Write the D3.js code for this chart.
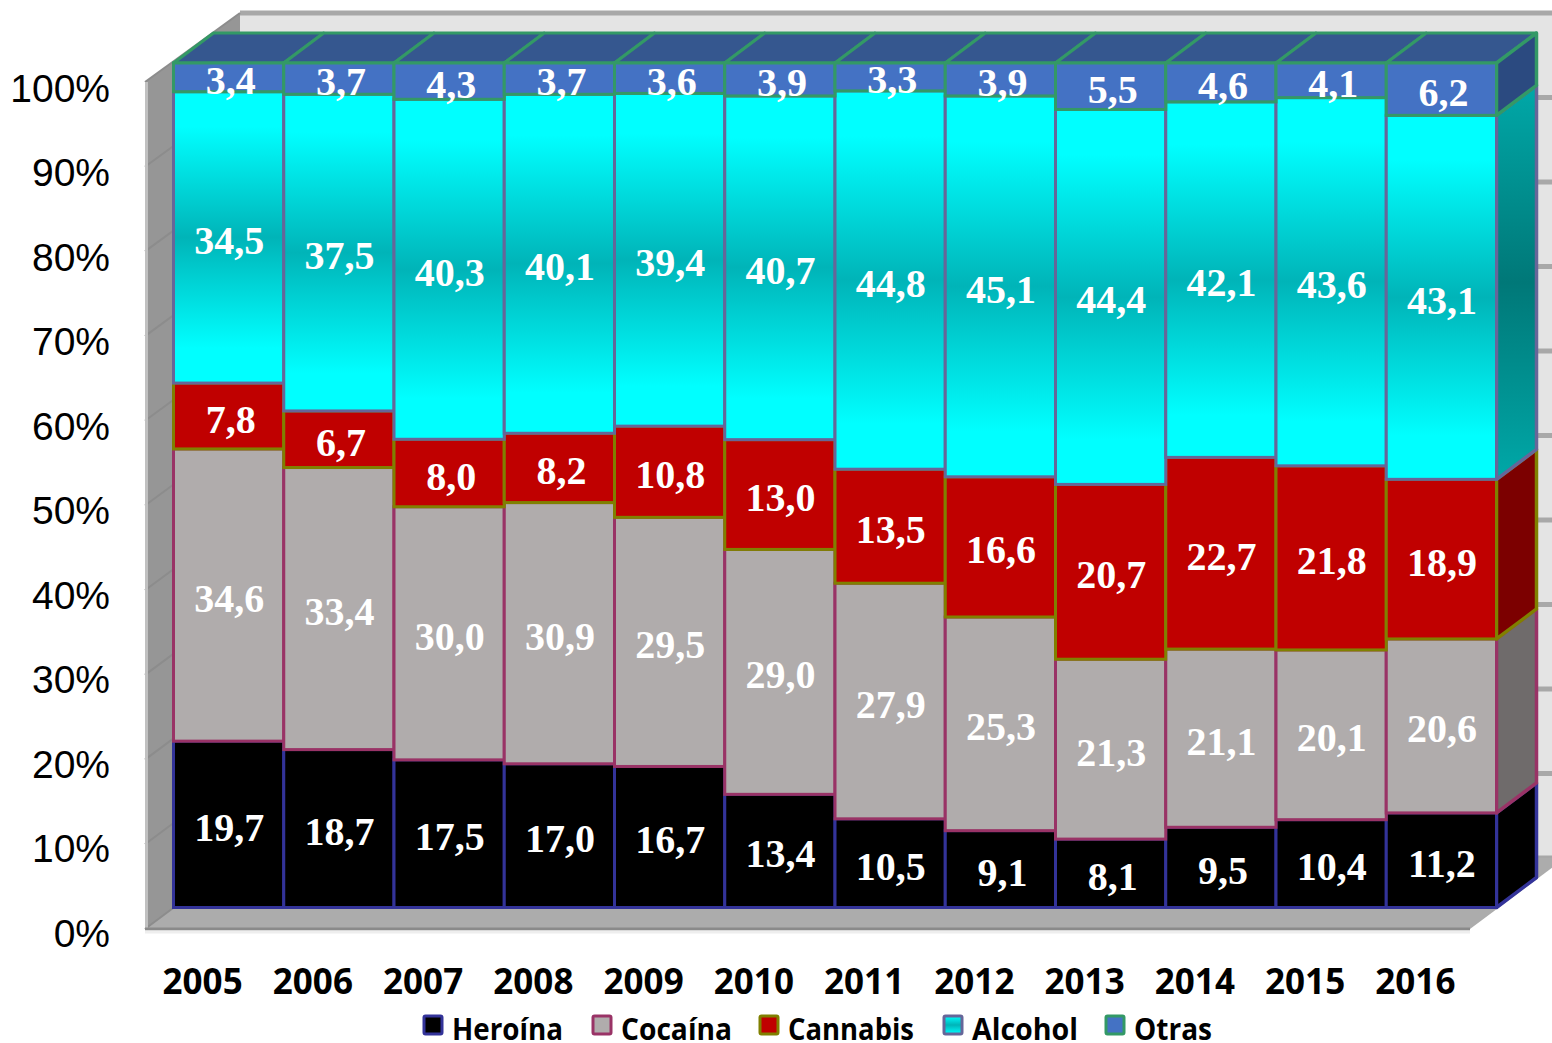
<!DOCTYPE html>
<html><head><meta charset="utf-8">
<script src="https://cdn.jsdelivr.net/npm/d3@7/dist/d3.min.js"></script>
<style>html,body{margin:0;padding:0;background:#fff;overflow:hidden}svg{display:block}</style>
</head><body><svg id="c" width="1552" height="1043"></svg>
<script>
const years=["2005","2006","2007","2008","2009","2010","2011","2012","2013","2014","2015","2016"];
const seriesNames=["Heroína","Cocaína","Cannabis","Alcohol","Otras"];
const heroina=[19.7,18.7,17.5,17.0,16.7,13.4,10.5,9.1,8.1,9.5,10.4,11.2];
const cocaina=[34.6,33.4,30.0,30.9,29.5,29.0,27.9,25.3,21.3,21.1,20.1,20.6];
const cannabis=[7.8,6.7,8.0,8.2,10.8,13.0,13.5,16.6,20.7,22.7,21.8,18.9];
const alcohol=[34.5,37.5,40.3,40.1,39.4,40.7,44.8,45.1,44.4,42.1,43.6,43.1];
const otras=[3.4,3.7,4.3,3.7,3.6,3.9,3.3,3.9,5.5,4.6,4.1,6.2];
const seriesValues=[heroina,cocaina,cannabis,alcohol,otras];
const fills=["#000000","#b0acac","#c00000","url(#alc)","#4472c4"];
const sideFills=["#000000","#6f6b6b","#7c0000","url(#alcSide)","#2b4a80"];
const strokes=["#333399","#993366","#808000","#666699","#339966"];
const yTicks=d3.range(0,101,10);

const svg=d3.select("#c");
const defs=svg.append("defs");
function grad(id,stops){const g=defs.append("linearGradient").attr("id",id).attr("x1",0).attr("y1",0).attr("x2",0).attr("y2",1);
  stops.forEach(s=>g.append("stop").attr("offset",s[0]).attr("stop-color",s[1]));}
grad("alc",[[0,"#00ffff"],[0.12,"#00ffff"],[0.5,"#00b4b8"],[0.88,"#00ffff"],[1,"#00ffff"]]);
grad("alcSide",[[0,"#00a8a8"],[0.5,"#007878"],[1,"#00a8a8"]]);
grad("legAlc",[[0,"#00ffff"],[0.5,"#00b4b8"],[1,"#00ffff"]]);

const x=d3.scaleBand().domain(years).range([173.5,1496.5]).padding(0);
const y=d3.scaleLinear().domain([0,1]).range([907.5,63]);
const dx=40,dy=-30;
const wallY=d3.scaleLinear().domain([0,100]).range([929,82]);
const backY=d3.scaleLinear().domain([0,100]).range([858,13]);
const wallX0=145,backX=240;

// back wall
svg.append("rect").attr("x",backX).attr("y",backY(100)).attr("width",1552-backX).attr("height",backY(0)-backY(100)).attr("fill","#e4e4e4");
// back-wall gridlines
svg.append("g").attr("stroke","#a8a8a8").attr("stroke-width",5).selectAll("line").data(yTicks).join("line")
  .attr("x1",backX).attr("x2",1552).attr("y1",d=>backY(d)).attr("y2",d=>backY(d));
// floor
svg.append("path").attr("d",`M${wallX0},${wallY(0)}L${backX},${backY(0)}L1565,${backY(0)}L1470,${wallY(0)}Z`).attr("fill","#acacac");
// left wall
svg.append("path").attr("d",`M${wallX0},${wallY(0)}L${backX},${backY(0)}L${backX},${backY(100)}L${wallX0},${wallY(100)}Z`).attr("fill","#969696");
// wall gridlines
svg.append("g").attr("stroke","#8c8c8c").attr("stroke-width",2).selectAll("line").data(yTicks).join("line")
  .attr("x1",wallX0).attr("x2",backX).attr("y1",d=>wallY(d)).attr("y2",d=>backY(d));
// wall front edge, floor front edge
svg.append("line").attr("x1",wallX0+1.5).attr("x2",wallX0+1.5).attr("y1",wallY(100)).attr("y2",wallY(0)).attr("stroke","#c0c0c0").attr("stroke-width",3);
svg.append("line").attr("x1",wallX0).attr("x2",1470).attr("y1",wallY(0)).attr("y2",wallY(0)).attr("stroke","#8a8a8a").attr("stroke-width",3);
svg.append("line").attr("x1",wallX0).attr("x2",1470).attr("y1",wallY(0)+3).attr("y2",wallY(0)+3).attr("stroke","#eeeeee").attr("stroke-width",3);

// stacked data: 100% stack
const table=years.map((yr,i)=>{const o={year:yr};seriesNames.forEach((s,j)=>o[s]=seriesValues[j][i]);return o;});
const stacked=d3.stack().keys(seriesNames).offset(d3.stackOffsetExpand)(table);

const bars=svg.append("g");
// top faces
const topLayer=stacked[stacked.length-1];
const topG=bars.append("g");
topLayer.forEach(d=>{
  const a=x(d.data.year),b=a+x.bandwidth(),t=y(d[1]);
  topG.append("path").attr("d",`M${a},${t}L${a+dx},${t+dy}L${b+dx},${t+dy}L${b},${t}Z`)
    .attr("fill","#35578f").attr("stroke","#339966").attr("stroke-width",3).attr("stroke-linejoin","round");
});
stacked.forEach((layer,j)=>{
  const g=bars.append("g");
  // right side of the last bar
  const last=layer[layer.length-1];
  const rx=x(last.data.year)+x.bandwidth();
  g.append("path").attr("d",`M${rx},${y(last[0])}L${rx+dx},${y(last[0])+dy}L${rx+dx},${y(last[1])+dy}L${rx},${y(last[1])}Z`)
    .attr("fill",sideFills[j]).attr("stroke",strokes[j]).attr("stroke-width",3.5).attr("stroke-linejoin","round");
  g.selectAll("rect").data(layer).join("rect")
    .attr("x",d=>x(d.data.year)).attr("width",x.bandwidth())
    .attr("y",d=>y(d[1])).attr("height",d=>y(d[0])-y(d[1]))
    .attr("fill",fills[j]).attr("stroke",strokes[j]).attr("stroke-width",3);
});

// value labels
const labels=svg.append("g").attr("font-family","'Liberation Serif',serif").attr("font-weight","700").attr("font-size",40).attr("fill","#fff").attr("text-anchor","middle");
stacked.forEach((layer,j)=>{
  labels.append("g").selectAll("text").data(layer).join("text")
    .attr("x",d=>x(d.data.year)+x.bandwidth()/2+(d.data[seriesNames[j]]<10?2:0.5))
    .attr("y",d=>(y(d[0])+y(d[1]))/2+16.5)
    .text(d=>d.data[seriesNames[j]].toFixed(1).replace(".",","));
});

// axes (labels only)
const yAxis=d3.axisLeft(d3.scaleLinear().domain([0,100]).range([932,87])).tickValues(yTicks).tickSize(0).tickPadding(0).tickFormat(d=>d+"%");
const ya=svg.append("g").attr("transform","translate(110,0)").call(yAxis);
ya.select(".domain").remove();
ya.selectAll("text").attr("font-family","'Liberation Sans',Arial,sans-serif").attr("font-size",39).attr("fill","#000").attr("dy","0.36em");

const xAxis=d3.axisBottom(x).tickSize(0).tickPadding(0);
const xa=svg.append("g").attr("transform","translate(-26,0)").call(xAxis);
xa.select(".domain").remove();
xa.selectAll("text").attr("font-family","'Open Sans',sans-serif").attr("font-weight","700").attr("font-size",35).attr("fill","#000").attr("y",993.5).attr("dy",0);

// legend
const legendItems=[[424,452,111],[593,621,111],[760,788,126],[944,972,106],[1106,1134,78]];
const lg=svg.append("g");
const legendFills=["#000000","#b0acac","#c00000","url(#legAlc)","#4472c4"];
seriesNames.forEach((s,j)=>{
  const [bx,tx,tw]=legendItems[j];
  lg.append("rect").attr("x",bx).attr("y",1016).attr("width",18).attr("height",18).attr("rx",1.5)
    .attr("fill",legendFills[j]).attr("stroke",strokes[j]).attr("stroke-width",3);
  lg.append("text").attr("x",tx).attr("y",1039.5).attr("textLength",tw).attr("lengthAdjust","spacingAndGlyphs")
    .attr("font-family","'Open Sans',sans-serif").attr("font-weight","700").attr("font-size",29.5).attr("fill","#000").text(s);
});
</script></body></html>
